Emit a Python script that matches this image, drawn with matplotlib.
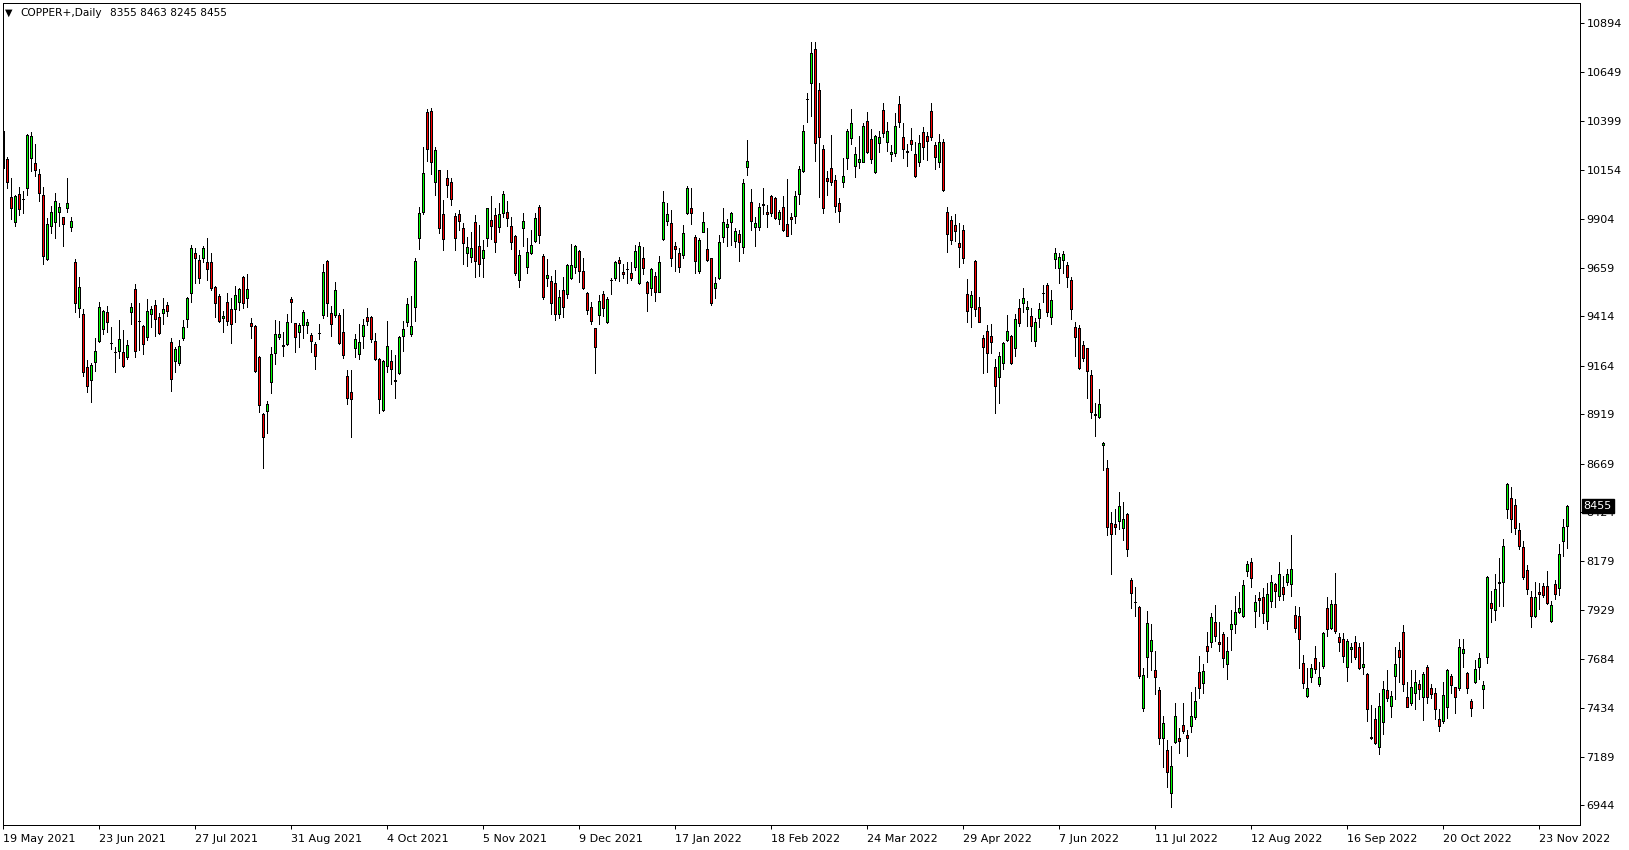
import matplotlib
matplotlib.use("Agg")
import matplotlib.pyplot as plt
import matplotlib.transforms as mtransforms
import numpy as np

# daily OHLC (oldest first)
opens = [
    10352, 10209, 10016, 9889, 10032, 10009, 10064, 10216, 10187, 10133,
    10026, 9703, 9872, 9889, 9943, 9915, 9960, 9864, 9689, 9458,
    9427, 9159, 9092, 9182, 9289, 9351, 9435, 9282, 9233, 9238,
    9233, 9208, 9438, 9551, 9391, 9364, 9311, 9424, 9471, 9409,
    9429, 9471, 9284, 9187, 9180, 9306, 9399, 9534, 9732, 9698,
    9707, 9687, 9687, 9561, 9517, 9404, 9485, 9449, 9453, 9488,
    9611, 9505, 9379, 9365, 9207, 8921, 8938, 9081, 9227, 9308,
    9266, 9273, 9500, 9379, 9334, 9371, 9371, 9320, 9275, 9329,
    9421, 9694, 9430, 9421, 9421, 9337, 9113, 9031, 9253, 9223,
    9317, 9409, 9409, 9292, 9197, 8942, 9165, 9189, 9090, 9127,
    9317, 9388, 9324, 9463, 9808, 9943, 10448, 10451, 10094, 10152,
    9931, 10111, 10091, 9921, 9931, 9859, 9733, 9716, 9889, 9768,
    9711, 9812, 9899, 9926, 9867, 9938, 9941, 9871, 9820, 9596,
    9862, 9665, 9736, 9795, 9967, 9717, 9610, 9593, 9581, 9425,
    9547, 9526, 9610, 9665, 9743, 9643, 9534, 9460, 9354, 9419,
    9527, 9387, 9598, 9610, 9699, 9638, 9653, 9631, 9662, 9584,
    9707, 9589, 9556, 9618, 9539, 9803, 9897, 9884, 9770, 9733,
    9724, 9934, 9960, 9813, 9645, 9842, 9753, 9707, 9559, 9606,
    9813, 9867, 9889, 9796, 9830, 9766, 10167, 9990, 9864, 9867,
    9978, 9939, 10022, 10010, 9904, 9965, 9879, 9914, 9923, 10032,
    10148, 10513, 10591, 10764, 10557, 10259, 10111, 10162, 10103, 9985,
    10094, 10215, 10313, 10175, 10192, 10195, 10400, 10308, 10141, 10288,
    10456, 10293, 10232, 10237, 10486, 10318, 10246, 10305, 10234, 10195,
    10343, 10325, 10451, 10279, 10195, 10293, 9939, 9901, 9875, 9783,
    9850, 9527, 9463, 9695, 9460, 9303, 9340, 9315, 9157, 9106,
    9177, 9295, 9315, 9253, 9455, 9480, 9450, 9418, 9292, 9404,
    9531, 9573, 9409, 9702, 9660, 9699, 9674, 9598, 9359, 9354,
    9268, 9253, 9118, 8918, 8908, 8765, 8647, 8373, 8364, 8383,
    8344, 8415, 8083, 7970, 7945, 7435, 7695, 7726, 7628, 7527,
    7283, 7224, 7005, 7266, 7283, 7350, 7300, 7347, 7392, 7620,
    7561, 7749, 7771, 7869, 7769, 7810, 7657, 7833, 7859, 7922,
    7902, 8130, 8172, 7927, 7990, 7995, 7877, 7978, 8061, 8000,
    8045, 8071, 8064, 7906, 7900, 7662, 7498, 7594, 7687, 7557,
    7650, 7939, 7842, 7964, 7796, 7783, 7645, 7732, 7771, 7742,
    7645, 7608, 7286, 7380, 7241, 7364, 7527, 7448, 7599, 7729,
    7818, 7490, 7460, 7510, 7555, 7490, 7641, 7536, 7510, 7379,
    7372, 7440, 7598, 7541, 7536, 7712, 7615, 7472, 7566, 7645,
    7532, 7696, 7965, 7931, 8069, 8071, 8439, 8495, 8461, 8335,
    8248, 8133, 7995, 7901, 8020, 8052, 8051, 7877, 8061, 8041,
    8281, 8355,
]
highs = [
    10356, 10221, 10111, 10027, 10069, 10049, 10334, 10344, 10285, 10157,
    10066, 9910, 9972, 10036, 9985, 9918, 10111, 9918, 9703, 9612,
    9450, 9194, 9177, 9304, 9487, 9447, 9467, 9361, 9258, 9396,
    9346, 9295, 9484, 9578, 9484, 9370, 9501, 9466, 9496, 9429,
    9505, 9485, 9303, 9261, 9294, 9396, 9513, 9774, 9761, 9724,
    9769, 9808, 9735, 9567, 9525, 9441, 9530, 9505, 9567, 9559,
    9617, 9626, 9404, 9370, 9214, 8928, 8987, 9261, 9396, 9390,
    9337, 9424, 9514, 9383, 9379, 9446, 9401, 9332, 9287, 9374,
    9677, 9699, 9467, 9586, 9430, 9451, 9144, 9144, 9324, 9377,
    9401, 9455, 9416, 9329, 9202, 9194, 9391, 9245, 9219, 9317,
    9393, 9509, 9517, 9707, 9965, 10268, 10460, 10465, 10271, 10155,
    10002, 10153, 10115, 9938, 9951, 9884, 9813, 9842, 9926, 9876,
    9800, 9963, 10022, 9963, 9985, 10047, 9997, 9914, 9823, 9749,
    9938, 9808, 9850, 9938, 9977, 9729, 9704, 9618, 9648, 9547,
    9615, 9677, 9780, 9775, 9748, 9711, 9539, 9488, 9357, 9522,
    9542, 9514, 9610, 9694, 9716, 9677, 9687, 9687, 9775, 9791,
    9766, 9593, 9660, 9640, 9719, 10047, 9985, 9951, 9791, 9761,
    9876, 10072, 10061, 9825, 9808, 9940, 9859, 9711, 9611, 9825,
    9960, 9904, 9943, 9859, 9850, 10108, 10305, 10057, 9918, 9985,
    10061, 9977, 10027, 10015, 9951, 10022, 10108, 9938, 10047, 10175,
    10380, 10544, 10801, 10801, 10594, 10279, 10150, 10330, 10128, 10010,
    10212, 10360, 10461, 10271, 10325, 10392, 10444, 10358, 10330, 10352,
    10490, 10394, 10279, 10439, 10527, 10389, 10284, 10363, 10296, 10330,
    10372, 10347, 10490, 10296, 10335, 10308, 9968, 9921, 9929, 9884,
    9875, 9603, 9542, 9699, 9514, 9320, 9370, 9375, 9197, 9236,
    9287, 9421, 9320, 9426, 9500, 9556, 9492, 9455, 9404, 9480,
    9573, 9585, 9548, 9761, 9733, 9744, 9687, 9611, 9384, 9371,
    9290, 9256, 9144, 8975, 9048, 8778, 8689, 8428, 8440, 8526,
    8475, 8420, 8095, 8046, 7949, 7637, 7926, 7860, 7726, 7540,
    7396, 7275, 7244, 7460, 7334, 7460, 7325, 7519, 7540, 7699,
    7657, 7821, 7917, 7956, 7869, 7821, 7793, 7931, 8002, 8024,
    8082, 8180, 8192, 8007, 8020, 8040, 8066, 8108, 8066, 8172,
    8104, 8136, 8310, 7953, 7944, 7704, 7636, 7656, 7749, 7670,
    7821, 7995, 7981, 8120, 7816, 7813, 7783, 7766, 7800, 7763,
    7771, 7614, 7451, 7438, 7513, 7572, 7628, 7522, 7746, 7771,
    7855, 7566, 7628, 7628, 7577, 7616, 7653, 7560, 7536, 7430,
    7566, 7632, 7608, 7544, 7783, 7783, 7620, 7482, 7679, 7716,
    7574, 8103, 8029, 8113, 8195, 8288, 8571, 8551, 8490, 8369,
    8280, 8158, 8027, 8071, 8066, 8069, 8128, 7978, 8083, 8264,
    8391, 8463,
]
lows = [
    10041, 10064, 9906, 9871, 9926, 9938, 10027, 10149, 10123, 9999,
    9676, 9699, 9834, 9812, 9871, 9771, 9943, 9847, 9438, 9413,
    9113, 9034, 8984, 9140, 9285, 9324, 9337, 9251, 9132, 9203,
    9159, 9199, 9376, 9211, 9245, 9223, 9294, 9362, 9316, 9323,
    9374, 9417, 9039, 9135, 9168, 9294, 9360, 9488, 9584, 9581,
    9690, 9598, 9547, 9412, 9387, 9337, 9372, 9281, 9387, 9446,
    9458, 9463, 9306, 9135, 8933, 8650, 8823, 9025, 9172, 9298,
    9214, 9269, 9388, 9236, 9261, 9303, 9329, 9236, 9147, 9298,
    9404, 9416, 9317, 9413, 9275, 9206, 8970, 8804, 9207, 9197,
    9253, 9371, 9287, 9194, 8925, 8937, 9132, 9073, 9000, 9122,
    9239, 9367, 9315, 9393, 9754, 9933, 10200, 10131, 10027, 9837,
    9749, 10015, 9977, 9749, 9850, 9679, 9670, 9690, 9615, 9620,
    9615, 9771, 9805, 9741, 9842, 9918, 9871, 9754, 9623, 9564,
    9771, 9635, 9727, 9788, 9786, 9500, 9569, 9426, 9394, 9404,
    9413, 9505, 9601, 9635, 9586, 9552, 9428, 9376, 9130, 9376,
    9418, 9382, 9526, 9598, 9594, 9606, 9581, 9598, 9648, 9578,
    9628, 9443, 9522, 9493, 9536, 9800, 9876, 9670, 9645, 9640,
    9707, 9931, 9881, 9635, 9635, 9839, 9694, 9472, 9509, 9603,
    9788, 9771, 9775, 9766, 9695, 9732, 10128, 9850, 9771, 9850,
    9929, 9867, 9923, 9904, 9879, 9847, 9818, 9830, 9884, 9981,
    10145, 10397, 10427, 10200, 10015, 9934, 10027, 10077, 9943, 9892,
    10066, 10157, 10283, 10120, 10165, 10192, 10237, 10187, 10138, 10242,
    10318, 10251, 10200, 10225, 10372, 10215, 10175, 10254, 10119, 10173,
    10207, 10204, 10305, 10158, 10170, 10049, 9741, 9778, 9795, 9662,
    9685, 9387, 9359, 9418, 9384, 9126, 9135, 9227, 8925, 8975,
    9147, 9290, 9172, 9216, 9366, 9438, 9367, 9292, 9266, 9362,
    9489, 9418, 9376, 9660, 9585, 9632, 9564, 9401, 9216, 9149,
    9191, 9004, 8900, 8812, 8900, 8639, 8310, 8112, 8316, 8341,
    8285, 8206, 7940, 7903, 7587, 7419, 7591, 7628, 7505, 7253,
    7140, 7039, 6938, 7261, 7207, 7312, 7196, 7313, 7379, 7488,
    7514, 7670, 7746, 7776, 7724, 7645, 7582, 7729, 7817, 7914,
    7897, 8104, 8049, 7847, 7902, 7867, 7835, 7948, 7948, 7981,
    7981, 8057, 8000, 7818, 7636, 7535, 7490, 7569, 7614, 7547,
    7636, 7801, 7833, 7816, 7726, 7667, 7574, 7670, 7682, 7633,
    7606, 7372, 7279, 7253, 7202, 7303, 7473, 7392, 7481, 7569,
    7522, 7439, 7451, 7431, 7480, 7375, 7460, 7485, 7379, 7322,
    7359, 7384, 7514, 7413, 7527, 7645, 7510, 7398, 7561, 7581,
    7438, 7665, 7872, 7881, 7953, 7953, 8397, 8327, 8313, 8237,
    8086, 8012, 7844, 7898, 7935, 7999, 7961, 7872, 7987, 8007,
    8205, 8245,
]
closes = [
    10162, 10091, 9960, 10022, 9955, 10006, 10330, 10325, 10152, 10036,
    9721, 9879, 9940, 9997, 9965, 9879, 9985, 9896, 9480, 9561,
    9132, 9061, 9167, 9240, 9460, 9442, 9384, 9280, 9235, 9300,
    9162, 9268, 9462, 9238, 9389, 9273, 9441, 9451, 9399, 9332,
    9449, 9443, 9099, 9249, 9264, 9359, 9508, 9757, 9710, 9606,
    9757, 9651, 9555, 9480, 9392, 9416, 9392, 9377, 9522, 9552,
    9480, 9552, 9367, 9140, 8966, 8803, 8970, 9222, 9323, 9325,
    9268, 9384, 9485, 9308, 9371, 9435, 9384, 9290, 9214, 9331,
    9637, 9480, 9374, 9546, 9278, 9219, 9004, 8995, 9298, 9283,
    9371, 9393, 9300, 9199, 8995, 9189, 9265, 9149, 9092, 9308,
    9349, 9477, 9366, 9694, 9935, 10137, 10258, 10195, 10253, 9859,
    9803, 10078, 10005, 9808, 9897, 9783, 9763, 9758, 9696, 9677,
    9748, 9960, 9872, 9791, 9931, 10032, 9913, 9791, 9635, 9724,
    9896, 9739, 9775, 9909, 9827, 9514, 9621, 9483, 9428, 9512,
    9463, 9674, 9674, 9771, 9645, 9556, 9448, 9393, 9258, 9492,
    9455, 9500, 9600, 9687, 9685, 9626, 9652, 9606, 9744, 9770,
    9657, 9531, 9652, 9536, 9690, 9990, 9929, 9707, 9753, 9662,
    9833, 10061, 9934, 9695, 9800, 9889, 9699, 9483, 9581, 9788,
    9892, 9879, 9938, 9847, 9791, 10086, 10197, 9897, 9884, 9965,
    9980, 9929, 9938, 9912, 9939, 9850, 9822, 9904, 10022, 10158,
    10350, 10510, 10742, 10288, 10321, 9963, 10099, 10094, 9973, 9948,
    10123, 10350, 10389, 10234, 10209, 10375, 10246, 10207, 10325, 10318,
    10338, 10352, 10244, 10375, 10394, 10257, 10248, 10283, 10123, 10288,
    10271, 10301, 10321, 10220, 10293, 10052, 9828, 9800, 9845, 9763,
    9707, 9443, 9522, 9451, 9387, 9261, 9227, 9283, 9063, 9216,
    9278, 9341, 9177, 9401, 9379, 9505, 9460, 9367, 9384, 9450,
    9533, 9435, 9495, 9736, 9712, 9728, 9611, 9450, 9309, 9152,
    9202, 9139, 8933, 8920, 8970, 8773, 8349, 8314, 8349, 8458,
    8390, 8238, 8016, 7972, 7600, 7604, 7864, 7779, 7594, 7286,
    7359, 7111, 7143, 7396, 7271, 7322, 7283, 7396, 7471, 7535,
    7623, 7726, 7894, 7801, 7758, 7687, 7724, 7860, 7919, 7939,
    8055, 8163, 8091, 7970, 7981, 7914, 8010, 8071, 8029, 8111,
    8010, 8111, 8140, 7842, 7783, 7561, 7535, 7636, 7631, 7591,
    7813, 7833, 7964, 7825, 7768, 7700, 7776, 7746, 7692, 7640,
    7658, 7429, 7288, 7258, 7446, 7530, 7485, 7497, 7658, 7695,
    7555, 7443, 7540, 7569, 7530, 7608, 7490, 7505, 7430, 7347,
    7500, 7627, 7551, 7494, 7743, 7734, 7539, 7435, 7632, 7687,
    7553, 8099, 7940, 8037, 8071, 8254, 8567, 8389, 8344, 8254,
    8099, 8037, 7903, 7995, 8010, 8007, 7968, 7956, 8010, 8212,
    8349, 8455,
]

date_labels = ["19 May 2021", "23 Jun 2021", "27 Jul 2021", "31 Aug 2021",
               "4 Oct 2021", "5 Nov 2021", "9 Dec 2021", "17 Jan 2022",
               "18 Feb 2022", "24 Mar 2022", "29 Apr 2022", "7 Jun 2022",
               "11 Jul 2022", "12 Aug 2022", "16 Sep 2022", "20 Oct 2022",
               "23 Nov 2022"]
bars_per_label = 24
price_ticks = [10894, 10649, 10399, 10154, 9904, 9659, 9414, 9164, 8919,
               8669, 8424, 8179, 7929, 7684, 7434, 7189, 6944]
symbol = "COPPER+,Daily"

W, H = 1629, 850
PX = 0.72  # one pixel in points at dpi 100

fig = plt.figure(figsize=(W / 100, H / 100), dpi=100)
fig.patch.set_facecolor("white")
ax = fig.add_axes([2.5 / W, 1 - 824.5 / H, 1577 / W, 822 / H])

o = np.array(opens, dtype=float)
h = np.array(highs, dtype=float)
l = np.array(lows, dtype=float)
c = np.array(closes, dtype=float)
x = np.arange(len(o))
up = c >= o

ax.vlines(x, l, h, color="black", lw=PX, antialiased=False, zorder=1)
ax.bar(x, np.abs(c - o), bottom=np.minimum(o, c), width=0.5,
       color=np.where(up, "#00ff00", "#ff0000"), edgecolor="black",
       linewidth=PX, antialiased=False, zorder=2)

ax.set_xlim(-0.2, 394.05)
ax.set_ylim(6848, 10999)

for sp in ax.spines.values():
    sp.set_linewidth(PX)
    sp.set_color("black")

ax.yaxis.tick_right()
ax.set_yticks(price_ticks)
ax.set_yticklabels([str(p) for p in price_ticks])
ax.tick_params(axis="y", direction="out", length=3, width=PX, pad=2,
               labelsize=8, colors="black")

ax.set_xticks(np.arange(len(date_labels)) * bars_per_label)
ax.set_xticklabels(date_labels)
for t in ax.get_xticklabels():
    t.set_horizontalalignment("left")
ax.tick_params(axis="x", direction="out", length=3, width=PX, pad=4,
               labelsize=8, colors="black")

# current price box on the price scale
trans = mtransforms.blended_transform_factory(ax.transAxes, ax.transData)
ax.text(1.0 + 4 / 1577, closes[-1], str(closes[-1]), transform=trans,
        ha="left", va="center", color="white", fontsize=8, zorder=10,
        bbox=dict(boxstyle="square,pad=0.18", fc="black", ec="black"))

# header
fig.text(5 / W, 1 - 12.5 / H, "\u25bc", fontsize=7, va="center", ha="left")
fig.text(20 / W, 1 - 12.5 / H, symbol, fontsize=7.6, va="center", ha="left")
fig.text(110 / W, 1 - 12.5 / H,
         f"{opens[-1]} {highs[-1]} {lows[-1]} {closes[-1]}",
         fontsize=7.6, va="center", ha="left")

fig.savefig("out.png", dpi=100)
